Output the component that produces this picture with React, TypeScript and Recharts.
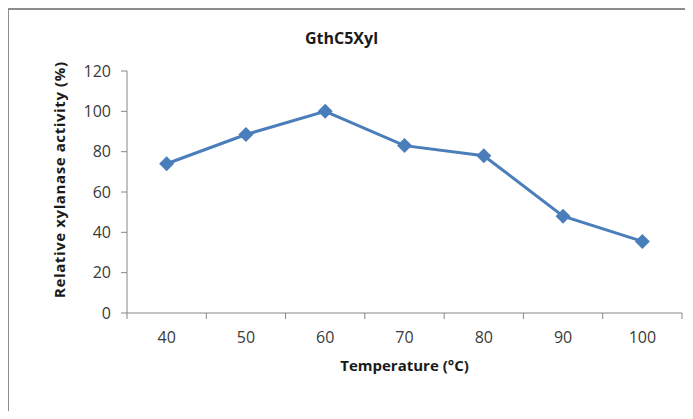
import React from "react";
import { LineChart, Line, XAxis, YAxis, Label } from "recharts";

const temperatures = [40, 50, 60, 70, 80, 90, 100];
const activity = [74, 88.5, 100, 83, 78, 48, 35.5];
const yTicks = [0, 20, 40, 60, 80, 100, 120];
const title = "GthC5Xyl";
const xTitle = "Temperature (°C)";
const yTitle = "Relative xylanase activity (%)";

const data = temperatures.map((t, i) => ({ temp: t, value: activity[i] }));
const halfStep = (temperatures[1] - temperatures[0]) / 2;
const boundaryTicks = [
  ...temperatures.map((t) => t - halfStep),
  temperatures[temperatures.length - 1] + halfStep,
];
const allTicks = [...boundaryTicks, ...temperatures].sort((a, b) => a - b);

const FONT = "'Open Sans', 'DejaVu Sans', sans-serif";
const AXIS = "#868686";
const LINE = "#4a7ebb";

const XTick = (props: any) => {
  const { x, y, payload } = props;
  const v = payload.value;
  if (boundaryTicks.includes(v)) {
    return <line x1={x} y1={y} x2={x} y2={y + 6} stroke={AXIS} strokeWidth={1} />;
  }
  return (
    <text x={x} y={y + 30} textAnchor="middle" fontSize={16} fill="#3a3a3a" fontFamily={FONT}>
      {v}
    </text>
  );
};

const Diamond = (props: any) => {
  const { cx, cy } = props;
  if (cx == null || cy == null) return null;
  const r = 7.5;
  return (
    <polygon
      key={`d-${cx}`}
      points={`${cx},${cy - r} ${cx + r},${cy} ${cx},${cy + r} ${cx - r},${cy}`}
      fill={LINE}
    />
  );
};

export default function App() {
  return (
    <div
      style={{
        position: "relative",
        marginLeft: -1,
        marginBottom: -8,
        width: 678,
        height: 409,
        borderTop: "2px solid #8c8c8c",
        borderLeft: "2px solid #8c8c8c",
        fontFamily: FONT,
      }}
    >
      <LineChart
        width={678}
        height={409}
        data={data}
        margin={{ top: 61, right: 5, bottom: 76, left: 58 }}
      >
        <XAxis
          dataKey="temp"
          type="number"
          domain={[boundaryTicks[0], boundaryTicks[boundaryTicks.length - 1]]}
          ticks={allTicks}
          interval={0}
          tickLine={false}
          tickSize={0}
          tickMargin={0}
          tick={<XTick />}
          axisLine={{ stroke: AXIS, strokeWidth: 1 }}
          height={30}
        >
          <Label
            content={(p: any) => {
              const vb = p.viewBox;
              return (
                <text
                  x={vb.x + vb.width / 2}
                  y={vb.y + 58}
                  textAnchor="middle"
                  fontSize={15}
                  fontWeight="bold"
                  fill="#1a1a1a"
                  fontFamily={FONT}
                >
                  {xTitle}
                </text>
              );
            }}
          />
        </XAxis>
        <YAxis
          domain={[0, 120]}
          ticks={yTicks}
          interval={0}
          width={60}
          tickSize={6}
          tickMargin={10}
          tick={{ fontSize: 16, fill: "#3a3a3a", fontFamily: FONT }}
          tickLine={{ stroke: AXIS }}
          axisLine={{ stroke: AXIS, strokeWidth: 1 }}
        >
          <Label
            content={(p: any) => {
              const vb = p.viewBox;
              const cx = vb.x - 2;
              const cy = vb.y + vb.height / 2 - 12;
              return (
                <text
                  x={cx}
                  y={cy}
                  transform={`rotate(-90, ${cx}, ${cy})`}
                  textAnchor="middle"
                  fontSize={15}
                  fontWeight="bold"
                  fill="#1a1a1a"
                  fontFamily={FONT}
                  textLength={236}
                  lengthAdjust="spacing"
                >
                  {yTitle}
                </text>
              );
            }}
          />
        </YAxis>
        <Line
          dataKey="value"
          stroke={LINE}
          strokeWidth={3}
          dot={<Diamond />}
          activeDot={false}
          isAnimationActive={false}
        />
      </LineChart>
      <svg
        width={678}
        height={60}
        style={{ position: "absolute", left: 0, top: 0, pointerEvents: "none" }}
      >
        <text
          x={332.5}
          y={33.5}
          textAnchor="middle"
          fontSize={16}
          fontWeight="bold"
          fill="#1a1a1a"
          fontFamily={FONT}
        >
          {title}
        </text>
      </svg>
    </div>
  );
}
